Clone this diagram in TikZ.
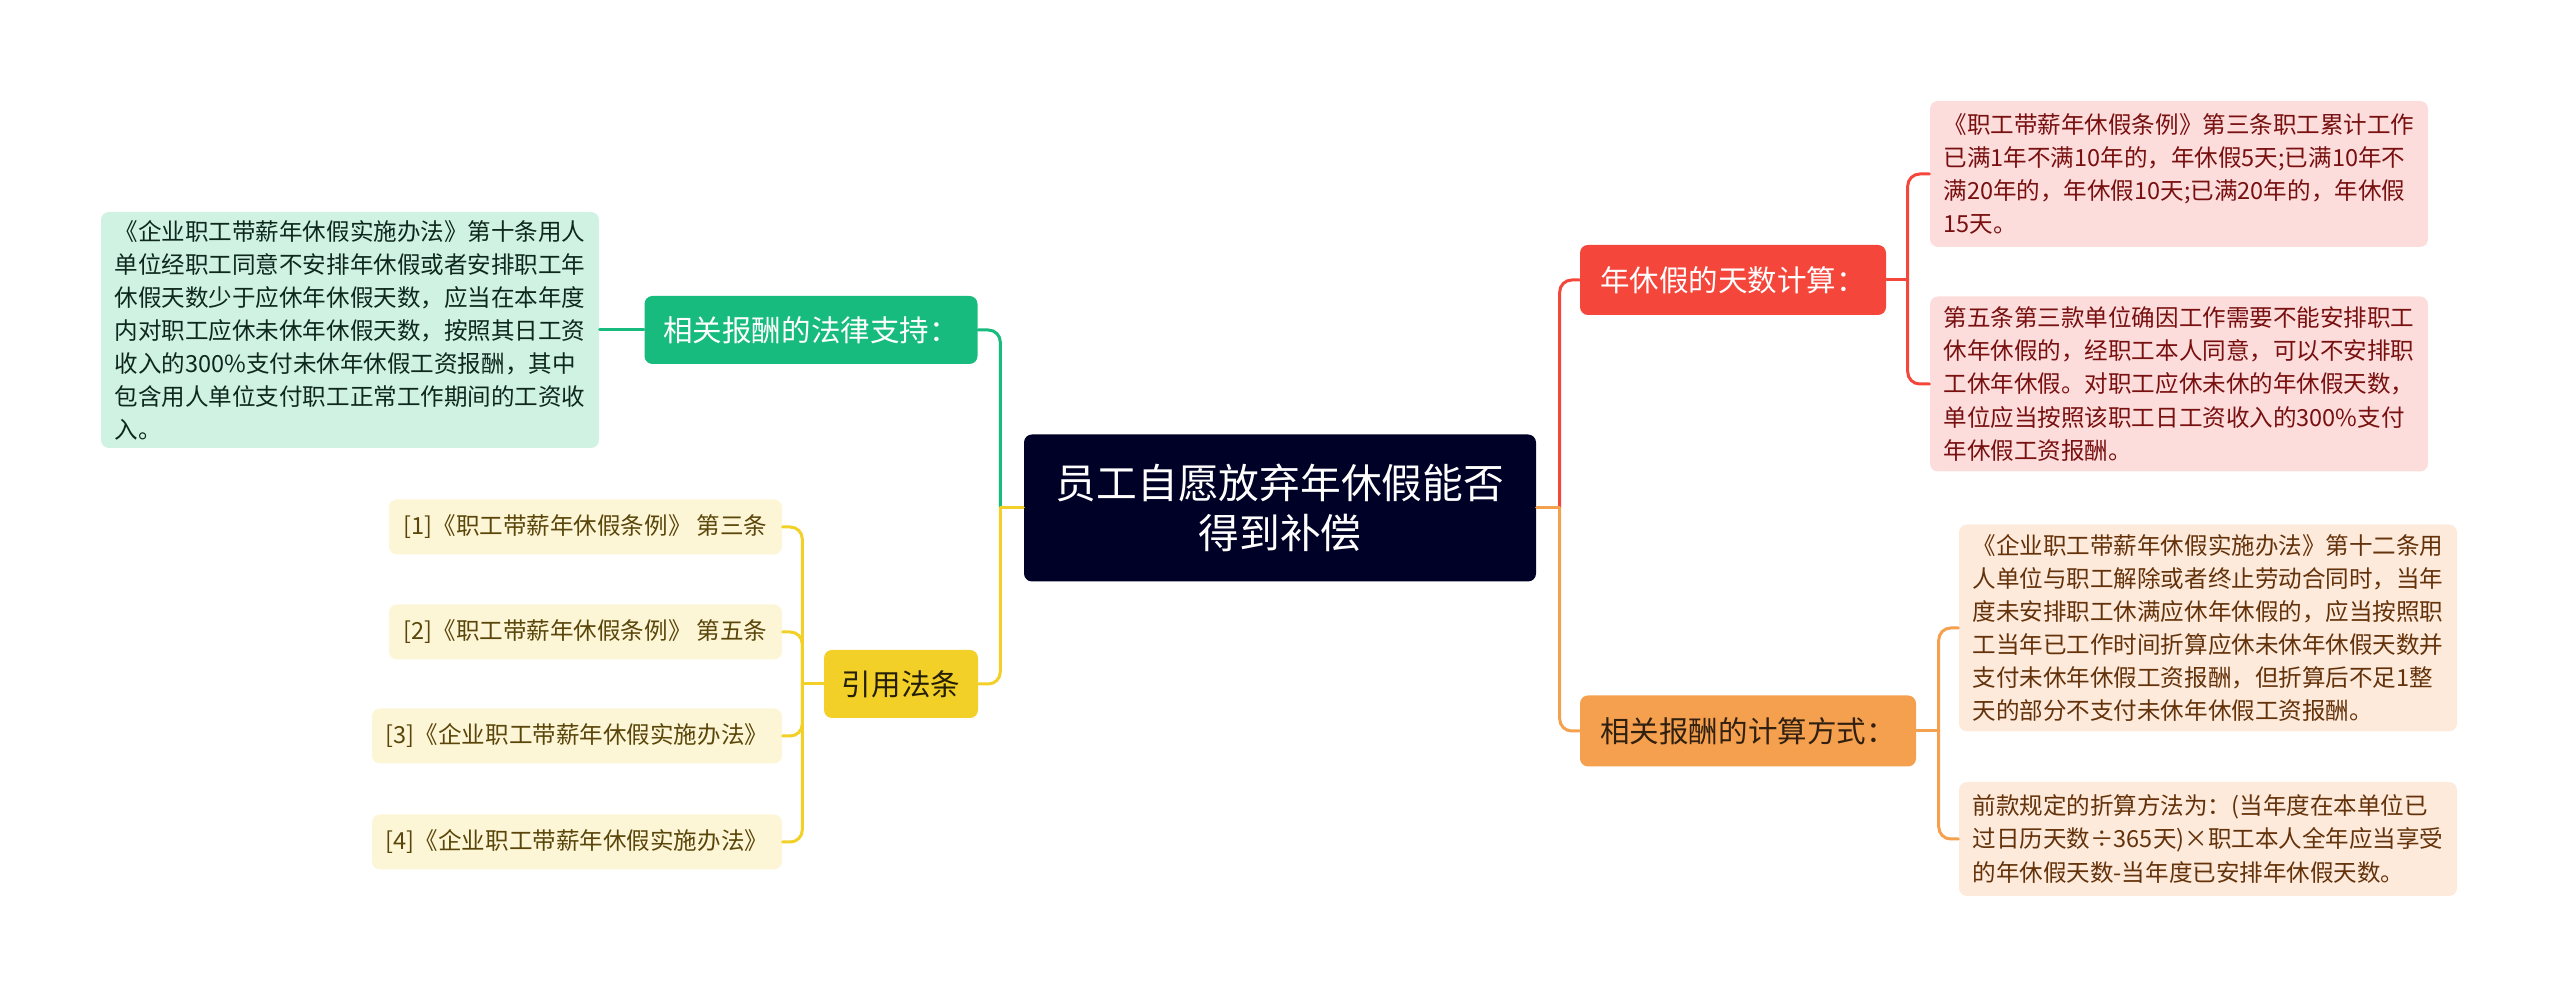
\documentclass[tikz,border=0pt]{standalone}
\usepackage{fontspec}
\setmainfont{Noto Sans CJK SC}
\usetikzlibrary{positioning}

\definecolor{rootbg}{RGB}{0,1,38}
\definecolor{grn}{RGB}{22,187,125}
\definecolor{grnbg}{RGB}{207,242,227}
\definecolor{grntxt}{RGB}{15,40,30}
\definecolor{ylw}{RGB}{242,208,40}
\definecolor{ylwbg}{RGB}{253,246,214}
\definecolor{ylwtxt}{RGB}{90,70,10}
\definecolor{red1}{RGB}{245,70,60}
\definecolor{redbg}{RGB}{253,220,220}
\definecolor{redtxt}{RGB}{120,16,16}
\definecolor{org}{RGB}{245,160,79}
\definecolor{orgbg}{RGB}{253,234,219}
\definecolor{orgtxt}{RGB}{100,50,10}

\begin{document}
\begin{tikzpicture}[line cap=round,line join=round,
  box/.style={rounded corners=0.8mm,inner sep=0pt,align=center},
  topic/.style={box,font=\fontsize{8.4}{10}\selectfont},
  leaf/.style={box,align=left,font=\fontsize{6.7}{9.4}\selectfont},
  link/.style={line width=0.85pt,rounded corners=1.2mm}]
  \useasboundingbox (0,0) rectangle (25.60,9.99);
  \node[box,fill=rootbg,text=white,minimum width=5.12cm,minimum height=1.47cm,
    font=\fontsize{11.6}{14.4}\selectfont] (root) at (12.80,4.91) {员工自愿放弃年休假能否\\得到补偿};
  \node[topic,fill=grn,text=white,minimum width=3.33cm,minimum height=0.68cm] (law) at (8.11,6.69) {相关报酬的法律支持：};
  \node[leaf,fill=grnbg,text=grntxt,minimum width=4.98cm,minimum height=2.36cm] (lawtxt) at (3.50,6.69)
    {《企业职工带薪年休假实施办法》第十条用人\\单位经职工同意不安排年休假或者安排职工年\\休假天数少于应休年休假天数，应当在本年度\\内对职工应休未休年休假天数，按照其日工资\\收入的300\%支付未休年休假工资报酬，其中\\包含用人单位支付职工正常工作期间的工资收\\入。};
  \node[topic,fill=ylw,text=black!85!ylw,minimum width=1.54cm,minimum height=0.68cm] (cite) at (9.01,3.15) {引用法条};
  \node[leaf,fill=ylwbg,text=ylwtxt,minimum width=3.93cm,minimum height=0.55cm] (c1) at (5.855,4.72) {[1]《职工带薪年休假条例》 第三条};
  \node[leaf,fill=ylwbg,text=ylwtxt,minimum width=3.93cm,minimum height=0.55cm] (c2) at (5.855,3.67) {[2]《职工带薪年休假条例》 第五条};
  \node[leaf,fill=ylwbg,text=ylwtxt,minimum width=4.10cm,minimum height=0.55cm] (c3) at (5.77,2.63) {[3]《企业职工带薪年休假实施办法》};
  \node[leaf,fill=ylwbg,text=ylwtxt,minimum width=4.10cm,minimum height=0.55cm] (c4) at (5.77,1.57) {[4]《企业职工带薪年休假实施办法》};
  \node[topic,fill=red1,text=white,minimum width=3.06cm,minimum height=0.70cm] (days) at (17.33,7.19) {年休假的天数计算：};
  \node[leaf,fill=redbg,text=redtxt,minimum width=4.98cm,minimum height=1.46cm] (d1) at (21.79,8.25)
    {《职工带薪年休假条例》第三条职工累计工作\\已满1年不满10年的，年休假5天;已满10年不\\满20年的，年休假10天;已满20年的，年休假\\15天。};
  \node[leaf,fill=redbg,text=redtxt,minimum width=4.98cm,minimum height=1.75cm] (d2) at (21.79,6.15)
    {第五条第三款单位确因工作需要不能安排职工\\休年休假的，经职工本人同意，可以不安排职\\工休年休假。对职工应休未休的年休假天数，\\单位应当按照该职工日工资收入的300\%支付\\年休假工资报酬。};
  \node[topic,fill=org,text=black!80!org,minimum width=3.36cm,minimum height=0.71cm] (calc) at (17.48,2.68) {相关报酬的计算方式：};
  \node[leaf,fill=orgbg,text=orgtxt,minimum width=4.98cm,minimum height=2.07cm] (f1) at (22.08,3.71)
    {《企业职工带薪年休假实施办法》第十二条用\\人单位与职工解除或者终止劳动合同时，当年\\度未安排职工休满应休年休假的，应当按照职\\工当年已工作时间折算应休未休年休假天数并\\支付未休年休假工资报酬，但折算后不足1整\\天的部分不支付未休年休假工资报酬。};
  \node[leaf,fill=orgbg,text=orgtxt,minimum width=4.98cm,minimum height=1.14cm] (f2) at (22.08,1.60)
    {前款规定的折算方法为：(当年度在本单位已\\过日历天数÷365天)×职工本人全年应当享受\\的年休假天数-当年度已安排年休假天数。};
  \coordinate[left=0.23cm of root] (lj);
  \coordinate[right=0.23cm of root] (rj);
  \coordinate[left=0.21cm of cite] (cj);
  \coordinate[right=0.21cm of days] (dj);
  \coordinate[right=0.22cm of calc] (fj);
  \draw[link,grn] (lj) |- (law.east);
  \draw[link,grn] (law.west) -- (lawtxt.east);
  \draw[link,ylw] (lj) |- (cite.east);
  \draw[link,ylw] (root.west) -- (lj);
  \draw[link,ylw] (cite.west) -- (cj);
  \foreach \i in {1,...,4} \draw[link,ylw] (cj) |- (c\i.east);
  \draw[link,red1] (rj) |- (days.west);
  \draw[link,org] (rj) |- (calc.west);
  \draw[link,org] (root.east) -- (rj);
  \draw[link,red1] (days.east) -- (dj);
  \draw[link,red1] (dj) |- (d1.west);
  \draw[link,red1] (dj) |- (d2.west);
  \draw[link,org] (calc.east) -- (fj);
  \draw[link,org] (fj) |- (f1.west);
  \draw[link,org] (fj) |- (f2.west);
\end{tikzpicture}
\end{document}
